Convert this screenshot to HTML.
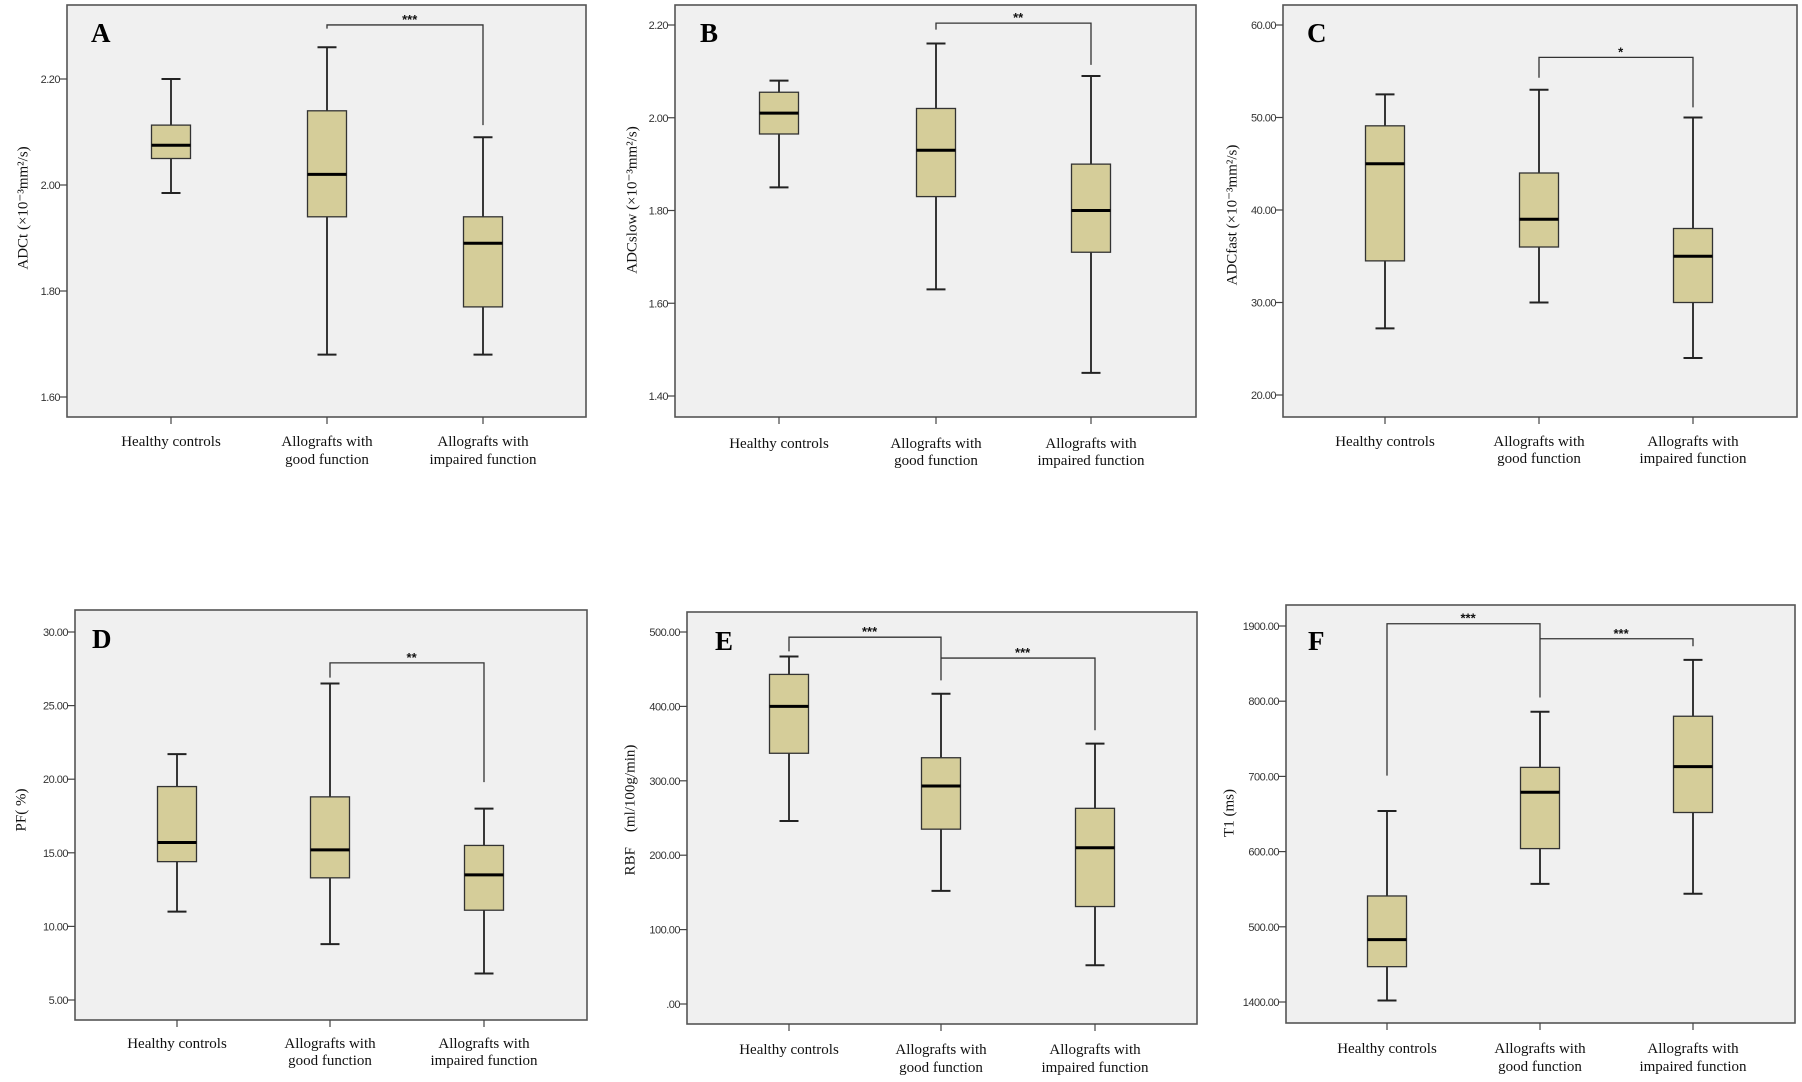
<!DOCTYPE html>
<html><head><meta charset="utf-8"><style>
html,body{margin:0;padding:0;background:#fff;}
svg{display:block;}
</style></head><body>
<svg id="fig" width="1802" height="1082" xmlns="http://www.w3.org/2000/svg"></svg>
<script>
const categories = ["Healthy controls", "Allografts with|good function", "Allografts with|impaired function"];
// Panel A
const aLow = [1.985, 1.68, 1.68], aQ1 = [2.05, 1.94, 1.77], aMed = [2.075, 2.02, 1.89], aQ3 = [2.113, 2.14, 1.94], aHigh = [2.2, 2.26, 2.09];
const aTicks = [1.6, 1.8, 2.0, 2.2], aTickLabels = ["1.60", "1.80", "2.00", "2.20"];
// Panel B
const bLow = [1.85, 1.63, 1.45], bQ1 = [1.965, 1.83, 1.71], bMed = [2.01, 1.93, 1.80], bQ3 = [2.055, 2.02, 1.90], bHigh = [2.08, 2.16, 2.09];
const bTicks = [1.4, 1.6, 1.8, 2.0, 2.2], bTickLabels = ["1.40", "1.60", "1.80", "2.00", "2.20"];
// Panel C
const cLow = [27.2, 30, 24], cQ1 = [34.5, 36, 30], cMed = [45, 39, 35], cQ3 = [49.1, 44, 38], cHigh = [52.5, 53, 50];
const cTicks = [20, 30, 40, 50, 60], cTickLabels = ["20.00", "30.00", "40.00", "50.00", "60.00"];
// Panel D
const dLow = [11.0, 8.8, 6.8], dQ1 = [14.4, 13.3, 11.1], dMed = [15.7, 15.2, 13.5], dQ3 = [19.5, 18.8, 15.5], dHigh = [21.7, 26.5, 18.0];
const dTicks = [5, 10, 15, 20, 25, 30], dTickLabels = ["5.00", "10.00", "15.00", "20.00", "25.00", "30.00"];
// Panel E
const eLow = [246, 152, 52], eQ1 = [337, 235, 131], eMed = [400, 293, 210], eQ3 = [443, 331, 263], eHigh = [467, 417, 350];
const eTicks = [0, 100, 200, 300, 400, 500], eTickLabels = [".00", "100.00", "200.00", "300.00", "400.00", "500.00"];
// Panel F
const fLow = [402, 557, 544], fQ1 = [447, 604, 652], fMed = [483, 679, 713], fQ3 = [541, 712, 780], fHigh = [654, 786, 855];
const fTicks = [400, 500, 600, 700, 800, 900], fTickLabels = ["1400.00", "500.00", "600.00", "700.00", "800.00", "1900.00"];
// Significance brackets: [from, to, barValue, legFromValue, legToValue, label]
const aSig = [[1, 2, 2.302, 2.295, 2.113, "***"]];
const bSig = [[1, 2, 2.204, 2.19, 2.114, "**"]];
const cSig = [[1, 2, 56.5, 54.3, 51.1, "*"]];
const dSig = [[1, 2, 27.9, 26.9, 19.8, "**"]];
const eSig = [[0, 1, 493, 474, 435, "***"], [1, 2, 465, 465, 368, "***"]];
const fSig = [[0, 1, 903, 701, 805, "***"], [1, 2, 883, 883, 873, "***"]];

const panels = [
 {id:"a", letter:"A", L:67, R:586, T:5, B:417, t0:1.6, y0:397, t1:2.2, y1:79, cx:[171,327,483], lab:[441,459], yl:[24,208], let:[91,42], ylabel:"ADCt (×10⁻³mm²/s)",
  low:aLow,q1:aQ1,med:aMed,q3:aQ3,high:aHigh,ticks:aTicks,tl:aTickLabels,sig:aSig},
 {id:"b", letter:"B", L:675, R:1196, T:5, B:417, t0:1.4, y0:396, t1:2.2, y1:25, cx:[779,936,1091], lab:[443,460], yl:[633,200], let:[700,42], ylabel:"ADCslow (×10⁻³mm²/s)",
  low:bLow,q1:bQ1,med:bMed,q3:bQ3,high:bHigh,ticks:bTicks,tl:bTickLabels,sig:bSig},
 {id:"c", letter:"C", L:1283, R:1797, T:5, B:417, t0:20, y0:395, t1:60, y1:25, cx:[1385,1539,1693], lab:[441,458], yl:[1233,215], let:[1307,42], ylabel:"ADCfast (×10⁻³mm²/s)",
  low:cLow,q1:cQ1,med:cMed,q3:cQ3,high:cHigh,ticks:cTicks,tl:cTickLabels,sig:cSig},
 {id:"d", letter:"D", L:75, R:587, T:610, B:1020, t0:5, y0:1000, t1:30, y1:632, cx:[177,330,484], lab:[1043,1060], yl:[22,810], let:[92,648], ylabel:"PF( %)",
  low:dLow,q1:dQ1,med:dMed,q3:dQ3,high:dHigh,ticks:dTicks,tl:dTickLabels,sig:dSig},
 {id:"e", letter:"E", L:687, R:1197, T:612, B:1024, t0:0, y0:1004, t1:500, y1:632, cx:[789,941,1095], lab:[1049,1067], yl:[631,810], let:[715,650], ylabel:"RBF　(ml/100g/min)",
  low:eLow,q1:eQ1,med:eMed,q3:eQ3,high:eHigh,ticks:eTicks,tl:eTickLabels,sig:eSig},
 {id:"f", letter:"F", L:1286, R:1795, T:605, B:1023, t0:400, y0:1002, t1:900, y1:626, cx:[1387,1540,1693], lab:[1048,1066], yl:[1230,813], let:[1308,650], ylabel:"T1 (ms)",
  low:fLow,q1:fQ1,med:fMed,q3:fQ3,high:fHigh,ticks:fTicks,tl:fTickLabels,sig:fSig}
];
const NS = "http://www.w3.org/2000/svg";
const svg = document.getElementById("fig");
function mk(tag, attrs, parent){ const e=document.createElementNS(NS,tag); for(const k in attrs) e.setAttribute(k,attrs[k]); (parent||svg).appendChild(e); return e; }

panels.forEach(p => {
  const y = v => p.y0 + (v - p.t0) * (p.y1 - p.y0) / (p.t1 - p.t0);
  const g = mk("g", {});
  
  
  const bg = mk("rect", {x:p.L, y:p.T, width:p.R-p.L, height:p.B-p.T, fill:"#f0f0f0", stroke:"#555", "stroke-width":1.6}, g);
  
  
  // y ticks
  p.ticks.forEach((t,i) => {
    const yy = y(t);
    const tk = mk("line", {x1:p.L-7, x2:p.L, y1:yy, y2:yy, stroke:"#444", "stroke-width":1.2}, g);
    
    
    const tx = mk("text", {x:p.L-7, y:yy+4, "text-anchor":"end", "font-family":"Liberation Sans, sans-serif", "font-size":11, fill:"#333", "letter-spacing":"-0.5"}, g);
    tx.textContent = p.tl[i];
    
    
  });
  // y label
  const yl = mk("text", {x:p.yl[0], y:p.yl[1], transform:`rotate(-90 ${p.yl[0]} ${p.yl[1]})`, "text-anchor":"middle", "dominant-baseline":"middle", "font-family":"Liberation Serif, serif", "font-size":15, fill:"#111"}, g);
  yl.textContent = p.ylabel;
  
  
  // letter
  const lt = mk("text", {x:p.let[0], y:p.let[1], "font-family":"Liberation Serif, serif", "font-size":27, "font-weight":"bold", fill:"#000"}, g);
  lt.textContent = p.letter;
  
  
  // categories
  p.cx.forEach((cx,i) => {
    const xt = mk("line", {x1:cx, x2:cx, y1:p.B, y2:p.B+7, stroke:"#444", "stroke-width":1.2}, g);
    
    
    categories[i].split("|").forEach((ln,j) => {
      const t = mk("text", {x:cx, y:p.lab[j]+5, "text-anchor":"middle", "font-family":"Liberation Serif, serif", "font-size":15, fill:"#111"}, g);
      t.textContent = ln;
      
      
    });
    const bx = mk("g", {}, g);
    
    
    const hw = 19.5, cw = 9.5;
    mk("line", {x1:cx, x2:cx, y1:y(p.high[i]), y2:y(p.q3[i]), stroke:"#222", "stroke-width":1.8}, bx);
    mk("line", {x1:cx, x2:cx, y1:y(p.q1[i]), y2:y(p.low[i]), stroke:"#222", "stroke-width":1.8}, bx);
    mk("line", {x1:cx-cw, x2:cx+cw, y1:y(p.high[i]), y2:y(p.high[i]), stroke:"#222", "stroke-width":2}, bx);
    mk("line", {x1:cx-cw, x2:cx+cw, y1:y(p.low[i]), y2:y(p.low[i]), stroke:"#222", "stroke-width":2}, bx);
    mk("rect", {x:cx-hw, y:y(p.q3[i]), width:2*hw, height:y(p.q1[i])-y(p.q3[i]), fill:"#d5cd99", stroke:"#333", "stroke-width":1.3}, bx);
    mk("line", {x1:cx-hw, x2:cx+hw, y1:y(p.med[i]), y2:y(p.med[i]), stroke:"#000", "stroke-width":3}, bx);
  });
  // significance brackets
  p.sig.forEach(s => {
    const x1 = p.cx[s[0]], x2 = p.cx[s[1]], yb = y(s[2]);
    const br = mk("path", {d:`M${x1},${y(s[3])} L${x1},${yb} L${x2},${yb} L${x2},${y(s[4])}`, fill:"none", stroke:"#333", "stroke-width":1.3}, g);
    
    
    const st = mk("text", {x:x1 + (x2-x1)*0.53, y:yb-1, "text-anchor":"middle", "font-family":"Liberation Sans, sans-serif", "font-size":13, "font-weight":"bold", fill:"#111"}, g);
    st.textContent = s[5];
    
    
  });
});
</script>
</body></html>
